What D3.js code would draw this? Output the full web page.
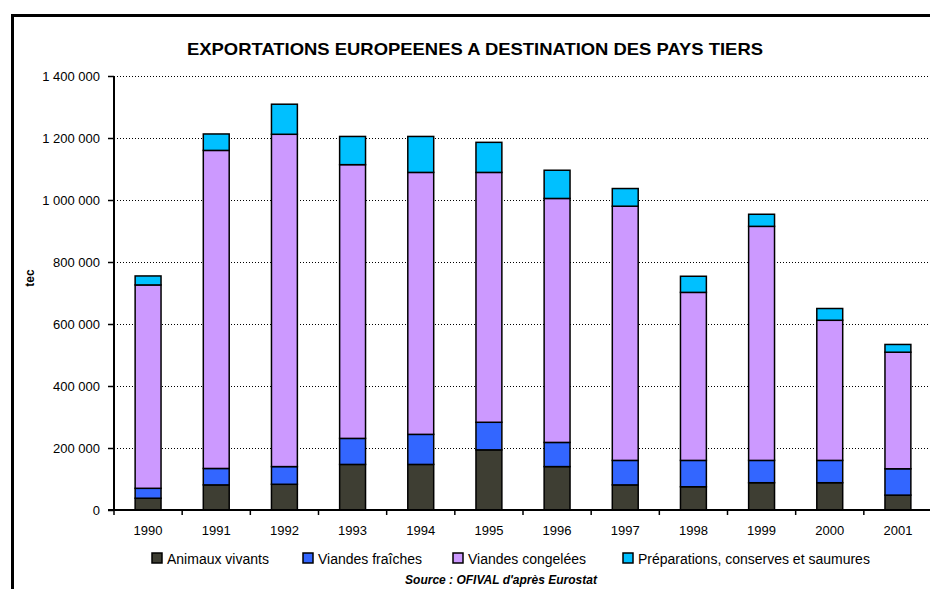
<!DOCTYPE html>
<html>
<head>
<meta charset="utf-8">
<script src="https://cdn.jsdelivr.net/npm/d3@7"></script>
<style>
  body { margin: 0; background: white; }
  svg { display: block; font-family: Arial, "Liberation Sans", sans-serif; }
</style>
</head>
<body>
<div id="chart"><svg width="930" height="589"></svg></div>
<script>
const years = ['1990', '1991', '1992', '1993', '1994', '1995', '1996', '1997', '1998', '1999', '2000', '2001'];
const seriesNames = ['Animaux vivants', 'Viandes fraîches', 'Viandes congelées', 'Préparations, conserves et saumures'];
const animaux = [38000, 81000, 83000, 147000, 147000, 194000, 140000, 81000, 75000, 88000, 88000, 48000];
const fraiches = [32000, 53000, 57000, 84000, 97000, 89000, 78000, 79000, 85000, 72000, 72000, 85000];
const congelees = [656000, 1026000, 1072000, 883000, 845000, 806000, 787000, 820000, 542000, 755000, 452000, 376000];
const preparations = [29000, 53000, 97000, 91000, 116000, 97000, 91000, 57000, 52000, 39000, 38000, 25000];
const yTicks = [0, 200000, 400000, 600000, 800000, 1000000, 1200000, 1400000];
const colors = ['#3e3e33', '#3366ff', '#cc99ff', '#00c0ff'];

const svg = d3.select('#chart svg');

// outer frame, runs off the right and bottom edges
svg.append('rect')
  .attr('x', 12.5)
  .attr('y', 15.5)
  .attr('width', 1000)
  .attr('height', 700)
  .attr('fill', 'none')
  .attr('stroke', 'black')
  .attr('stroke-width', 3);

const plotLeft = 114, plotRight = 932, plotTop = 76, plotBottom = 510;

let y = d3.scaleLinear().domain([0, 1400000]).range([plotBottom, plotTop]);
let x = d3.scaleBand().domain(years).range([plotLeft, plotRight])
  .paddingInner(0.62).paddingOuter(0.31);
let step = x.step();

// dotted gridlines
svg.append('g').selectAll('line')
  .data(yTicks.filter(d => d > 0))
  .join('line')
  .attr('x1', plotLeft)
  .attr('x2', plotRight)
  .attr('y1', d => y(d) + 0.5)
  .attr('y2', d => y(d) + 0.5)
  .attr('stroke', 'black')
  .attr('stroke-width', 1)
  .attr('stroke-dasharray', '1,2');

// stacked bars
let rows = years.map((yr, i) => ({
  year: yr,
  a: animaux[i], f: fraiches[i], c: congelees[i], p: preparations[i]
}));
let stack = d3.stack().keys(['a', 'f', 'c', 'p'])(rows);

svg.append('g').selectAll('g')
  .data(stack)
  .join('g')
  .attr('fill', (d, i) => colors[i])
  .selectAll('rect')
  .data(d => d)
  .join('rect')
  .attr('x', d => x(d.data.year))
  .attr('y', d => y(d[1]))
  .attr('width', x.bandwidth())
  .attr('height', d => y(d[0]) - y(d[1]))
  .attr('stroke', 'black')
  .attr('stroke-width', 1.5);

// y axis
let yAxis = svg.append('g').attr('transform', `translate(${plotLeft},0)`)
  .call(d3.axisLeft(y).tickValues(yTicks).tickSize(6).tickPadding(8)
    .tickFormat(d => d3.format(',')(d).replace(/,/g, ' ')));
yAxis.select('.domain').attr('stroke-width', 2).attr('d', `M0,${plotTop}V${plotBottom}`);
yAxis.selectAll('.tick line').attr('stroke-width', 1.5);
yAxis.selectAll('text').attr('font-size', 13).attr('fill', 'black');

// x axis with ticks between categories
let xAxis = svg.append('g');
xAxis.append('line')
  .attr('x1', plotLeft - 6)
  .attr('x2', plotRight)
  .attr('y1', plotBottom)
  .attr('y2', plotBottom)
  .attr('stroke', 'black')
  .attr('stroke-width', 2);
xAxis.selectAll('.sep')
  .data(d3.range(years.length + 1))
  .join('line')
  .attr('class', 'sep')
  .attr('x1', i => plotLeft + i * step)
  .attr('x2', i => plotLeft + i * step)
  .attr('y1', plotBottom)
  .attr('y2', plotBottom + 5)
  .attr('stroke', 'black')
  .attr('stroke-width', 1.5);
xAxis.selectAll('text')
  .data(years)
  .join('text')
  .attr('x', d => x(d) + x.bandwidth() / 2)
  .attr('y', 535)
  .attr('text-anchor', 'middle')
  .attr('font-size', 13)
  .text(d => d);

// y axis title
svg.append('text')
  .attr('transform', 'translate(34,278) rotate(-90)')
  .attr('text-anchor', 'middle')
  .attr('font-size', 12)
  .attr('font-weight', 'bold')
  .text('tec');

// title
svg.append('text')
  .attr('x', 475)
  .attr('y', 55)
  .attr('text-anchor', 'middle')
  .attr('font-size', 17)
  .attr('font-weight', 'bold')
  .attr('textLength', 576)
  .attr('lengthAdjust', 'spacingAndGlyphs')
  .text('EXPORTATIONS EUROPEENES A DESTINATION DES PAYS TIERS');

// legend
const legendX = [152, 303, 453, 623];
let legend = svg.append('g').selectAll('g')
  .data(seriesNames)
  .join('g')
  .attr('transform', (d, i) => `translate(${legendX[i]},553)`);
legend.append('rect')
  .attr('width', 10)
  .attr('height', 10)
  .attr('fill', (d, i) => colors[i])
  .attr('stroke', 'black')
  .attr('stroke-width', 1.5);
legend.append('text')
  .attr('x', 15)
  .attr('y', 11)
  .attr('font-size', 14)
  .text(d => d);

// source
svg.append('text')
  .attr('x', 501)
  .attr('y', 584)
  .attr('text-anchor', 'middle')
  .attr('font-size', 12)
  .attr('font-weight', 'bold')
  .attr('font-style', 'italic')
  .text("Source : OFIVAL d'après Eurostat");
</script>
</body>
</html>
